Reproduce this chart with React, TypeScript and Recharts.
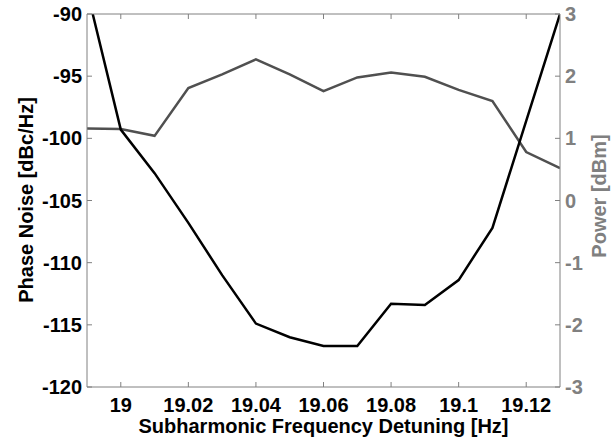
import React from 'react';
import { LineChart, Line, XAxis, YAxis, Label } from 'recharts';

// detuning (Hz), one reading every 0.01 Hz
const detuning = [18.99, 19.0, 19.01, 19.02, 19.03, 19.04, 19.05, 19.06, 19.07, 19.08, 19.09, 19.1, 19.11, 19.12, 19.13];
// phase noise, dBc/Hz (left axis)
const phaseNoise = [-88.1, -99.3, -102.8, -106.8, -111.0, -114.9, -116.0, -116.7, -116.7, -113.3, -113.4, -111.4, -107.2, -98.6, -90.0];
// output power, dBm (right axis)
const power = [1.16, 1.15, 1.04, 1.81, 2.03, 2.27, 2.03, 1.76, 1.98, 2.06, 1.99, 1.78, 1.6, 0.78, 0.52];

const xTicks = [19, 19.02, 19.04, 19.06, 19.08, 19.1, 19.12];
const noiseTicks = [-120, -115, -110, -105, -100, -95, -90];
const powerTicks = [-3, -2, -1, 0, 1, 2, 3];

const data = detuning.map((f, i) => ({ f, noise: phaseNoise[i], power: power[i] }));

const FONT = '"Liberation Sans", Arial, Helvetica, sans-serif';
const AXIS_GRAY = '#808080';

const SideTitle = ({ viewBox, value, cx, cy, fill }: any) => {
    const vb = viewBox || {};
    const x = cx;
    const y = cy ?? (vb.y + vb.height / 2);
    return (
        <text
            x={x}
            y={y}
            transform={`rotate(-90, ${x}, ${y})`}
            textAnchor="middle"
            dominantBaseline="central"
            fontFamily={FONT}
            fontSize={20}
            fontWeight="bold"
            fill={fill}
        >
            {value}
        </text>
    );
};

const BottomTitle = ({ viewBox, value }: any) => {
    const vb = viewBox || { x: 87, y: 387, width: 473 };
    return (
        <text
            x={vb.x + vb.width / 2}
            y={vb.y + 46}
            textAnchor="middle"
            fontFamily={FONT}
            fontSize={20}
            fontWeight="bold"
            fill="#000"
        >
            {value}
        </text>
    );
};

export default function App() {
    const tickStyle = { fontSize: 20, fontWeight: 'bold', fontFamily: FONT };
    return (
        <div style={{ position: 'absolute', left: 0, top: 0, width: 616, height: 443, background: '#fff' }}>
            <LineChart width={616} height={443} data={data} margin={{ top: 0, right: 0, bottom: 0, left: 0 }}>
                <XAxis
                    xAxisId="bottom"
                    dataKey="f"
                    type="number"
                    domain={[18.99, 19.13]}
                    ticks={xTicks}
                    allowDataOverflow
                    height={56}
                    stroke={AXIS_GRAY}
                    tickSize={-5}
                    tickMargin={16}
                    tick={{ ...tickStyle, fill: '#000' }}
                >
                    <Label value="Subharmonic Frequency Detuning [Hz]" content={<BottomTitle value="Subharmonic Frequency Detuning [Hz]" />} />
                </XAxis>
                <XAxis
                    xAxisId="top"
                    orientation="top"
                    dataKey="f"
                    type="number"
                    domain={[18.99, 19.13]}
                    ticks={xTicks}
                    allowDataOverflow
                    height={14}
                    stroke={AXIS_GRAY}
                    tickSize={-5}
                    tickFormatter={() => ''}
                />
                <YAxis
                    yAxisId="left"
                    orientation="left"
                    type="number"
                    domain={[-120, -90]}
                    ticks={noiseTicks}
                    allowDataOverflow
                    width={87}
                    stroke={AXIS_GRAY}
                    tickSize={-5}
                    tickMargin={10}
                    tick={{ ...tickStyle, fill: '#000' }}
                >
                    <Label value="Phase Noise [dBc/Hz]" content={<SideTitle value="Phase Noise [dBc/Hz]" cx={26} cy={200} fill="#000" />} />
                </YAxis>
                <YAxis
                    yAxisId="right"
                    orientation="right"
                    type="number"
                    domain={[-3, 3]}
                    ticks={powerTicks}
                    allowDataOverflow
                    width={56}
                    stroke={AXIS_GRAY}
                    tickSize={-5}
                    tickMargin={10}
                    tick={{ ...tickStyle, fill: AXIS_GRAY }}
                >
                    <Label value="Power [dBm]" content={<SideTitle value="Power [dBm]" cx={599} cy={196} fill={AXIS_GRAY} />} />
                </YAxis>
                <Line
                    xAxisId="top"
                    yAxisId="right"
                    dataKey="power"
                    type="linear"
                    stroke="#505050"
                    strokeWidth={2.5}
                    dot={false}
                    isAnimationActive={false}
                />
                <Line
                    xAxisId="bottom"
                    yAxisId="left"
                    dataKey="noise"
                    type="linear"
                    stroke="#000"
                    strokeWidth={2.5}
                    dot={false}
                    isAnimationActive={false}
                />
            </LineChart>
        </div>
    );
}
